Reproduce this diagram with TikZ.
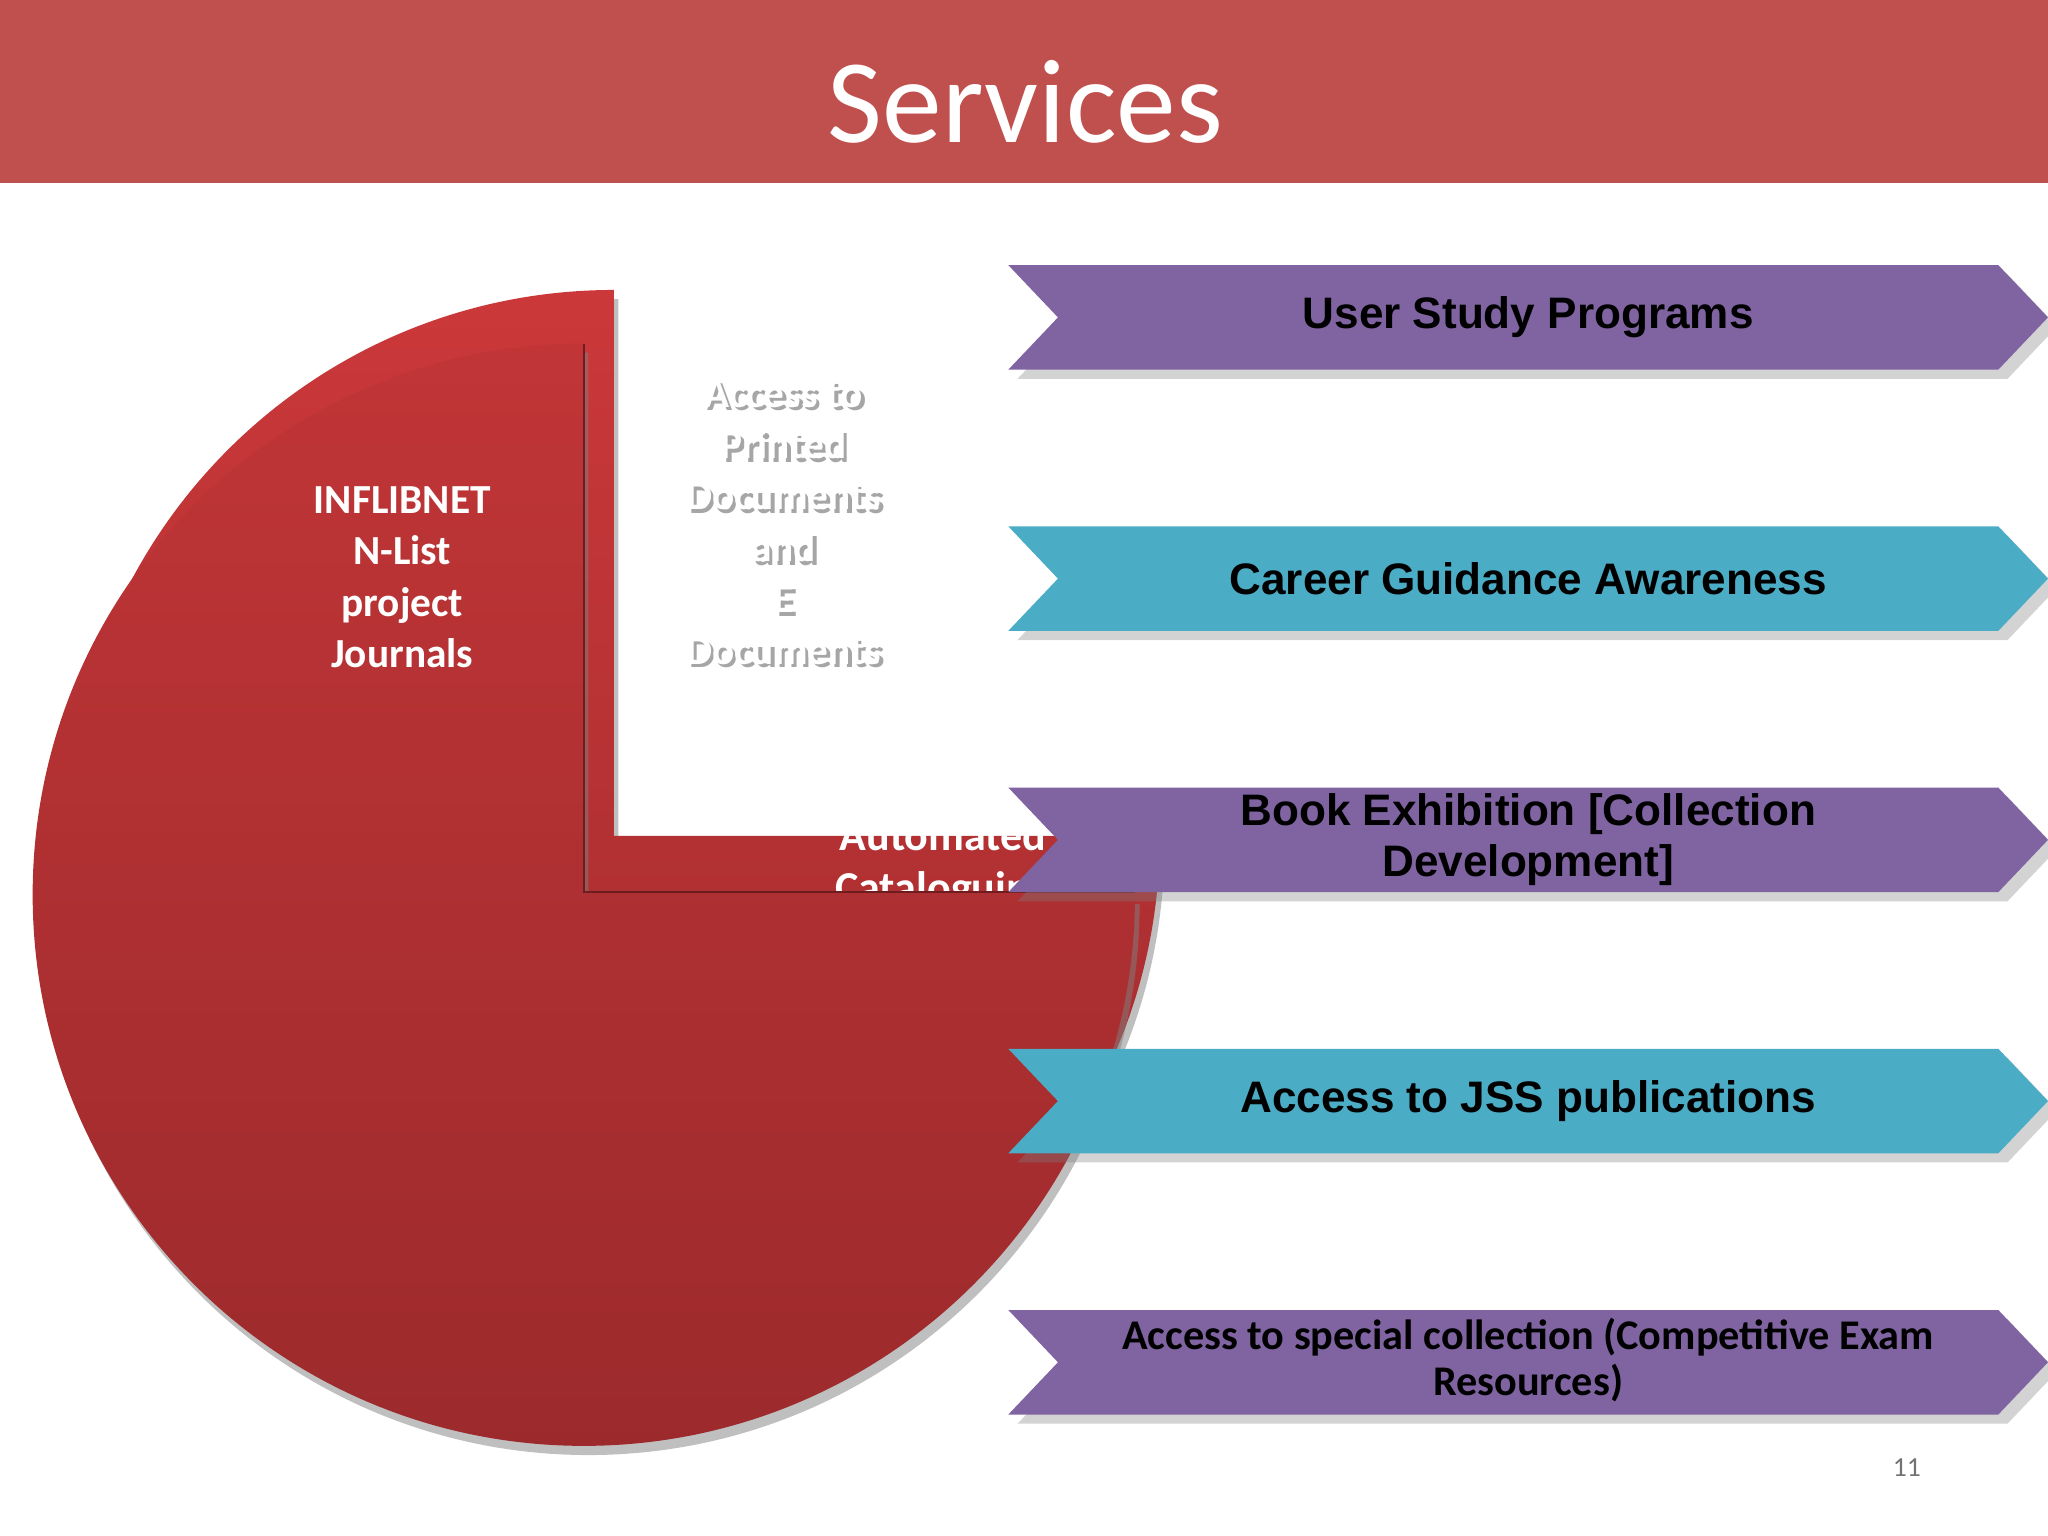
\documentclass[tikz,border=0pt]{standalone}
\usepackage{fontspec}
\setmainfont{Carlito}
\newfontfamily\arialf{Liberation Sans}
\usetikzlibrary{shadows}
\definecolor{hdr}{HTML}{C0504D}
\definecolor{purp}{HTML}{8064A2}
\definecolor{cyanb}{HTML}{4BACC6}
\definecolor{pietop}{HTML}{CB383A}
\definecolor{piebot}{HTML}{9C2A2C}
\begin{document}
\begin{tikzpicture}[x=0.01cm,y=0.01cm,
  chev/.style={drop shadow={shadow xshift=2pt,shadow yshift=-2pt,opacity=0.35}},
  ctext/.style={font=\arialf\bfseries\fontsize{9.6}{11}\selectfont,text=black,align=center},
  wtext/.style={font=\bfseries\fontsize{9}{11.2}\selectfont,text=white,align=center}]
\useasboundingbox (0,0) rectangle (1568,-1176);
% header
\fill[hdr] (0,0) rectangle (1568,-140);
\node[text=white,font=\fontsize{26}{30}\selectfont] (title) at (785,-78) {Services};
% pie, back slice
\shade[top color=pietop,bottom color=piebot,drop shadow={shadow xshift=1pt,shadow yshift=-2pt,opacity=0.5}]
  (470,-640) -- (470,-222) arc[start angle=90,end angle=360,radius=418] -- cycle;
\begin{scope}
\clip (470,-560) rectangle (900,-683);
\node[wtext,font=\bfseries\fontsize{9.6}{11.2}\selectfont] (auto) at (722,-662) {Automated\\Cataloguing};
\end{scope}
% pie, front slice
\shade[top color=pietop!95!black,bottom color=piebot,drop shadow={shadow xshift=1pt,shadow yshift=-2pt,opacity=0.5}]
  (447,-683) -- (447,-263) arc[start angle=90,end angle=360,radius=422] -- cycle;
\draw[piebot!70!black,line width=0.4pt] (447,-263) -- (447,-683) -- (869,-683);
\node[wtext] (infl) at (308,-442) {INFLIBNET\\N-List\\project\\Journals};
\node[wtext,text=black!35,xshift=0.8pt,yshift=-0.8pt] at (600,-400) {Access to\\Printed\\Documents\\and\hspace{1.52cm}\\E\\Documents};
\node[wtext] (access) at (600,-400) {Access to\\Printed\\Documents\\and\hspace{1.52cm}\\E\\Documents};
% chevrons
\foreach \yc/\col in {243/purp,443/cyanb,643/purp,843/cyanb,1043/purp}{
  \fill[\col,chev] (772,-\yc+40) -- (1530,-\yc+40) -- (1568,-\yc) -- (1530,-\yc-40)
    -- (772,-\yc-40) -- (810,-\yc) -- cycle;
}
\node[ctext] (s1) at (1170,-243) {User Study Programs};
\node[ctext] (s2) at (1170,-443) {Career Guidance Awareness};
\node[ctext] (s3) at (1170,-643) {Book Exhibition [Collection\\Development]};
\node[ctext] (s4) at (1170,-843) {Access to JSS publications};
\node[font=\bfseries\fontsize{9.2}{10}\selectfont,align=center] (s5) at (1170,-1041) {Access to special collection (Competitive Exam\\Resources)};
\node[text=black!55,font=\fontsize{6}{7}\selectfont] (pg) at (1460,-1124) {11};
\end{tikzpicture}
\end{document}
